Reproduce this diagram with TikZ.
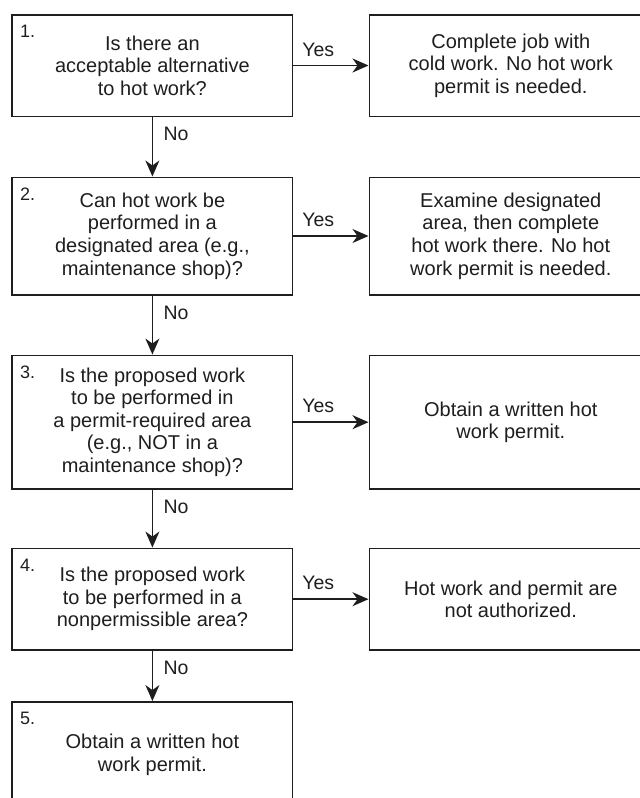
\documentclass[tikz,border=0pt]{standalone}
\usepackage{fontspec}
\setmainfont{Liberation Sans}
\usetikzlibrary{arrows.meta}
\definecolor{ink}{RGB}{30,30,30}
\tikzset{
  stepbox/.style={draw=ink,line width=1.6pt,inner sep=0pt,align=center,
    text=ink,font=\fontsize{20}{22.6}\selectfont},
  numlabel/.style={anchor=north west,inner sep=0pt,text=ink,
    font=\fontsize{18}{18}\selectfont},
  answer/.style={inner sep=0pt,text=ink,font=\fontsize{19.5}{20}\selectfont},
  flow/.style={draw=ink,line width=1.5pt,
    -{Stealth[length=16pt,width=14pt,inset=5pt]}}
}
\begin{document}
\begin{tikzpicture}[x=1pt,y=-1pt]%
  \useasboundingbox (0,0) rectangle (640,798);
  \clip (0,0) rectangle (640,798);
  \pgfmathsetmacro{\lx}{152.4}
  \pgfmathsetmacro{\rx}{510.8}
  % questions on the left
  \foreach \n/\y/\h/\q in {
    1/65.5/101.6/{Is there an\\acceptable alternative\\to hot work?},
    2/236/117.4/{Can hot work be\\performed in a\\designated area (e.g.,\\maintenance shop)?},
    3/422.2/133.7/{Is the proposed work\\to be performed in\\a permit-required area\\(e.g., NOT in a\\maintenance shop)?},
    4/599.2/101.7/{Is the proposed work\\to be performed in a\\nonpermissible area?},
    5/755/106.3/{Obtain a written hot\\work permit.}} {
    \node[stepbox,minimum width=280.5pt,minimum height=\h pt] (q\n) at (\lx,\y) {\q};
    \node[numlabel,xshift=8.5pt,yshift=-11pt] (n\n) at (q\n.north west) {\n.};
  }
  % outcomes on the right
  \foreach \n/\y/\h/\a in {
    1/65.5/101.6/{Complete job with\\cold work. No hot work\\permit is needed.},
    2/236/117.4/{Examine designated\\area, then complete\\hot work there. No hot\\work permit is needed.},
    3/422.2/133.7/{Obtain a written hot\\work permit.},
    4/599.2/101.7/{Hot work and permit are\\not authorized.}} {
    \node[stepbox,minimum width=283pt,minimum height=\h pt] (a\n) at (\rx,\y) {\a};
  }
  \foreach \n in {1,...,4} {
    \pgfmathtruncatemacro{\m}{\n+1}
    \draw[flow] (q\n.east) -- (a\n.west)
      node[answer,pos=0,anchor=south west,xshift=8.2pt,yshift=8.4pt] (yes\n) {Yes};
    \draw[flow] (q\n.south) -- (q\n.south |- q\m.north)
      node[answer,pos=0,anchor=north west,xshift=10.5pt,yshift=-9.5pt] (no\n) {No};
  }
\end{tikzpicture}
\end{document}
